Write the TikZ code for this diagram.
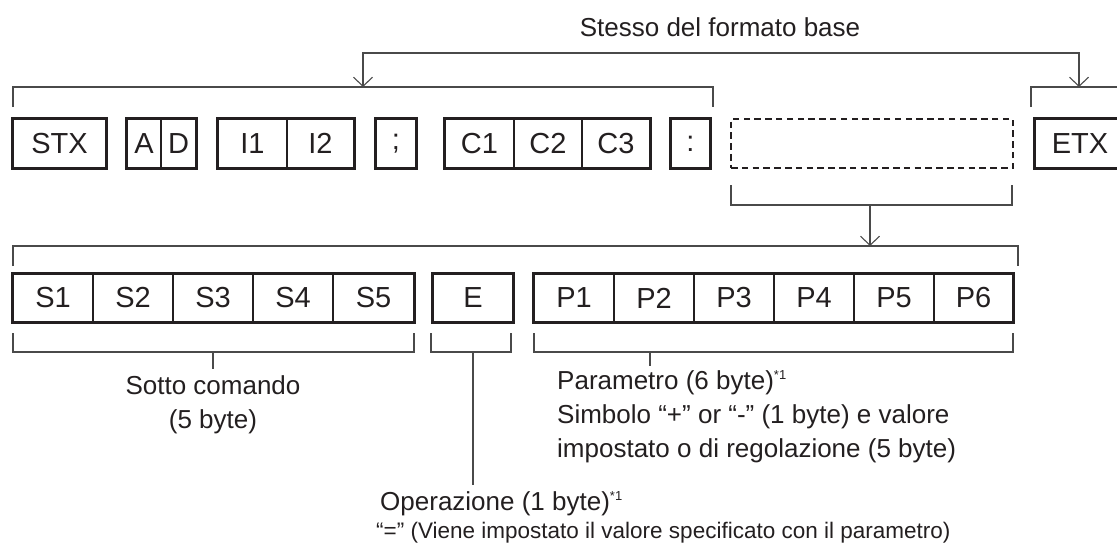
\documentclass[tikz,border=0pt]{standalone}
\usepackage{fontspec}
\setmainfont{Liberation Sans}
\usetikzlibrary{arrows.meta}
\definecolor{ink}{HTML}{231F20}
\definecolor{wirec}{HTML}{4A4A4A}
\begin{document}
\begin{tikzpicture}[x=1pt,y=-1pt,
  cell/.style={draw=ink, line width=1.3pt, inner sep=0pt, minimum height=49pt, text=ink, font=\fontsize{29}{32}\selectfont},
  cell2/.style={cell, minimum height=48pt, minimum width=80pt},
  frame/.style={draw=ink, line width=2.5pt},
  wire/.style={draw=wirec, line width=1.1pt},
  barb/.tip={Straight Barb[length=9pt,width=19pt]},
  lbl/.style={text=ink, inner sep=0pt, anchor=base, font=\fontsize{26}{30}\selectfont},
  sml/.style={text=ink, inner sep=0pt, anchor=base west, font=\fontsize{22.5}{26}\selectfont}]
\useasboundingbox (0,0) rectangle (1117,543);

% ---------- top row ----------
\node[cell, minimum width=93pt] (stx) at (59.5,143.5) {STX};
\node[cell, minimum width=34pt] (a) at (144,143.5) {A};
\node[cell, minimum width=35pt] (d) at (178.5,143.5) {D};
\node[cell, minimum width=69pt] (i1) at (252.5,143.5) {I1};
\node[cell, minimum width=67pt] (i2) at (320.5,143.5) {I2};
\node[cell, minimum width=40pt] (semi) at (396,143.5) {;};
\node[cell, minimum width=69pt] (c1) at (479.5,143.5) {C1};
\node[cell, minimum width=68pt] (c2) at (548,143.5) {C2};
\node[cell, minimum width=68pt] (c3) at (616,143.5) {C3};
\node[cell, minimum width=39pt] (colon) at (690.5,143.5) {:};
\node[cell, minimum width=282pt, line width=2.3pt, dash pattern=on 6.5pt off 4.3pt] (dsh) at (872,143.5) {};
\node[cell, minimum width=90pt] (etx) at (1080,143.5) {ETX};

\draw[frame] (stx.north west) rectangle (stx.south east);
\draw[frame] (a.north west) rectangle (d.south east);
\draw[frame] (i1.north west) rectangle (i2.south east);
\draw[frame] (semi.north west) rectangle (semi.south east);
\draw[frame] (c1.north west) rectangle (c3.south east);
\draw[frame] (colon.north west) rectangle (colon.south east);
\draw[frame] (etx.north west) rectangle (etx.south east);

% ---------- top brackets and arrow ----------
\coordinate (b1a) at (13,107);
\coordinate (b1b) at (13,87);
\coordinate (b1c) at (713,87);
\coordinate (b1d) at (713,107);
\coordinate (b2a) at (1031,107);
\coordinate (b2b) at (1031,87);
\coordinate (b2c) at (1125,87);
\draw[wire] (b1a) -- (b1b) -- (b1c) -- (b1d);
\draw[wire] (b2a) -- (b2b) -- (b2c);
\coordinate (tA) at (363,87);
\coordinate (tAup) at (363,53);
\coordinate (tB) at (1079,87);
\coordinate (tBup) at (1079,53);
\draw[wire, barb-barb] (tA) -- (tAup) -- (tBup) -- (tB);
\node[lbl] (same) at (720,37) {Stesso del formato base};

% ---------- dashed bracket and arrow ----------
\coordinate (d1) at (731,185);
\coordinate (d2) at (731,205);
\coordinate (d3) at (1012,205);
\coordinate (d4) at (1012,185);
\draw[wire] (d1) -- (d2) -- (d3) -- (d4);
\coordinate (dA) at (870,205);
\coordinate (dB) at (870,246);
\draw[wire, -barb] (dA) -- (dB);

\coordinate (e1) at (13,266);
\coordinate (e2) at (13,246);
\coordinate (e3) at (1018,246);
\coordinate (e4) at (1018,266);
\draw[wire] (e1) -- (e2) -- (e3) -- (e4);

% ---------- second row ----------
\node[cell2] (s1) at (53,298) {S1};
\node[cell2] (s2) at (133,298) {S2};
\node[cell2] (s3) at (213,298) {S3};
\node[cell2] (s4) at (293,298) {S4};
\node[cell2, minimum width=81pt] (s5) at (373.5,298) {S5};
\node[cell2] (e) at (473,298) {E};
\node[cell2] (p1) at (574,298) {P1};
\node[cell2] (p2) at (654,298) {P2};
\node[cell2] (p3) at (734,298) {P3};
\node[cell2] (p4) at (814,298) {P4};
\node[cell2] (p5) at (894,298) {P5};
\node[cell2, minimum width=79pt] (p6) at (973.5,298) {P6};
\draw[frame] (s1.north west) rectangle (s5.south east);
\draw[frame] (e.north west) rectangle (e.south east);
\draw[frame] (p1.north west) rectangle (p6.south east);

% ---------- lower brackets ----------
\coordinate (sb1) at (13,333);
\coordinate (sb2) at (13,352);
\coordinate (sb3) at (414,352);
\coordinate (sb4) at (414,333);
\draw[wire] (sb1) -- (sb2) -- (sb3) -- (sb4);
\coordinate (st1) at (213,352);
\coordinate (st2) at (213,369);
\draw[wire] (st1) -- (st2);

\coordinate (eb1) at (431,333);
\coordinate (eb2) at (431,352);
\coordinate (eb3) at (511,352);
\coordinate (eb4) at (511,333);
\draw[wire] (eb1) -- (eb2) -- (eb3) -- (eb4);
\coordinate (et1) at (473,352);
\coordinate (et2) at (473,485);
\draw[wire] (et1) -- (et2);

\coordinate (pb1) at (534,333);
\coordinate (pb2) at (534,352);
\coordinate (pb3) at (1013,352);
\coordinate (pb4) at (1013,333);
\draw[wire] (pb1) -- (pb2) -- (pb3) -- (pb4);
\coordinate (pt1) at (650,352);
\coordinate (pt2) at (650,366);
\draw[wire] (pt1) -- (pt2);

% ---------- labels ----------
\node[lbl] (sub1) at (213,394) {Sotto comando};
\node[lbl] (sub2) at (213,428) {(5 byte)};
\node[lbl, anchor=base west] (par1) at (557,389) {Parametro (6 byte)\textsuperscript{\fontsize{13}{13}\selectfont *1}};
\node[lbl, anchor=base west] (par2) at (557,423) {Simbolo “+” or “-” (1 byte) e valore};
\node[lbl, anchor=base west] (par3) at (557,457) {impostato o di regolazione (5 byte)};
\node[lbl, anchor=base west] (op1) at (380,510) {Operazione (1 byte)\textsuperscript{\fontsize{13}{13}\selectfont *1}};
\node[sml] (op2) at (376,538) {“=” (Viene impostato il valore specificato con il parametro)};
\end{tikzpicture}
\end{document}
